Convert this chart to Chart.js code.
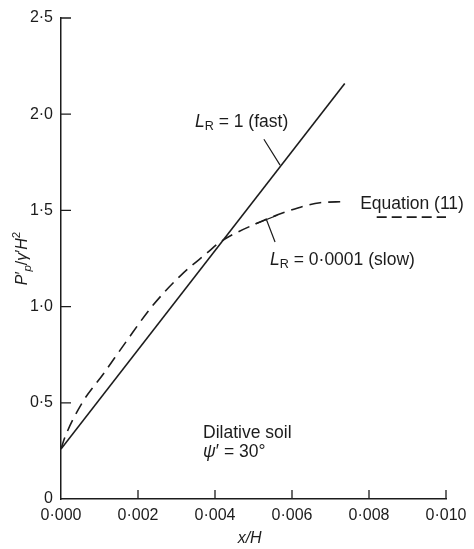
<!DOCTYPE html>
<html lang="en">
<head>
  <meta charset="UTF-8">
  <title>Dilative soil – P'p/γ'H² vs x/H</title>
  <script src="https://cdn.jsdelivr.net/npm/chart.js"></script>
  <style>
    html, body {
      margin: 0;
      padding: 0;
      background: #ffffff;
    }
    #wrap {
      width: 474px;
      height: 549px;
    }
  </style>
</head>
<body>
<div id="wrap">
  <canvas id="chart" width="474" height="549"></canvas>
</div>

<script>
  // values
  const fastX = [0, 0.00737];
  const fastY = [0.26, 2.16];

  const slowX = [0, 0.0001, 0.00055, 0.0011, 0.0017, 0.00236, 0.0031, 0.0038, 0.00413, 0.00517, 0.00595, 0.00673, 0.00732];
  const slowY = [0.26, 0.32, 0.50, 0.65, 0.82, 1.00, 1.16, 1.28, 1.335, 1.44, 1.50, 1.54, 1.545];

  // dashed key next to "Equation (11)"
  const keyX = [0.0082, 0.0100];
  const keyY = [1.465, 1.465];

  const xTicks = [0, 0.002, 0.004, 0.006, 0.008, 0.010];
  const yTicks = [0, 0.5, 1.0, 1.5, 2.0, 2.5];

  const ink = '#1c1c1c';
  const fontFam = '"Liberation Sans", Arial, Helvetica, sans-serif';

  function pts(xs, ys) {
    return xs.map((x, i) => ({ x: x, y: ys[i] }));
  }

  function dot(s) {
    return s.replace('.', '\u00B7');
  }

  // text with italic / subscript / superscript parts
  function richText(ctx, parts, x, y, size) {
    let cx = x;
    parts.forEach(p => {
      let fs = size, dy = 0;
      if (p.sub) { fs = size * 0.72; dy = size * 0.28; }
      if (p.sup) { fs = size * 0.72; dy = -size * 0.38; }
      ctx.font = (p.it ? 'italic ' : '') + fs + 'px ' + fontFam;
      ctx.fillText(p.t, cx, y + dy);
      cx += ctx.measureText(p.t).width;
    });
    return cx - x;
  }

  const notes = {
    id: 'notes',
    afterDraw(chart) {
      const c = chart.ctx;
      const xs = chart.scales.x, ys = chart.scales.y;
      const a = chart.chartArea;
      c.save();
      c.strokeStyle = ink;
      c.fillStyle = ink;

      // inward ticks
      c.lineWidth = 1.3;
      c.beginPath();
      yTicks.forEach(v => {
        if (v === 0) return;
        const py = ys.getPixelForValue(v);
        c.moveTo(a.left, py);
        c.lineTo(a.left + 10, py);
      });
      xTicks.forEach(v => {
        if (v === 0) return;
        const px = xs.getPixelForValue(v);
        c.moveTo(px, a.bottom);
        c.lineTo(px, a.bottom - 9);
      });
      c.stroke();

      // leader lines
      c.lineWidth = 1.2;
      c.beginPath();
      c.moveTo(xs.getPixelForValue(0.00527), ys.getPixelForValue(1.87));
      c.lineTo(xs.getPixelForValue(0.00569), ys.getPixelForValue(1.735));
      c.moveTo(xs.getPixelForValue(0.00556), ys.getPixelForValue(1.336));
      c.lineTo(xs.getPixelForValue(0.00533), ys.getPixelForValue(1.455));
      c.moveTo(xs.getPixelForValue(0.00505), ys.getPixelForValue(1.43));
      c.lineTo(xs.getPixelForValue(0.00562), ys.getPixelForValue(1.475));
      c.stroke();

      c.textBaseline = 'middle';
      c.textAlign = 'left';
      const fs = 17.5;
      richText(c, [{ t: 'L', it: true }, { t: 'R', sub: true }, { t: ' = 1 (fast)' }],
        xs.getPixelForValue(0.00348), ys.getPixelForValue(1.96), fs);
      richText(c, [{ t: 'L', it: true }, { t: 'R', sub: true }, { t: ' = 0\u00B70001 (slow)' }],
        xs.getPixelForValue(0.00543), ys.getPixelForValue(1.242), fs);
      richText(c, [{ t: 'Equation (11)' }],
        xs.getPixelForValue(0.00777), ys.getPixelForValue(1.533), fs);
      richText(c, [{ t: 'Dilative soil' }],
        xs.getPixelForValue(0.00369), ys.getPixelForValue(0.34), fs);
      richText(c, [{ t: '\u03C8', it: true }, { t: '\u2032 = 30\u00B0' }],
        xs.getPixelForValue(0.00369), ys.getPixelForValue(0.245), fs);

      // x title
      c.font = 'italic 16px ' + fontFam;
      const xt = 'x/H';
      const xw = c.measureText(xt).width;
      c.fillText(xt, xs.getPixelForValue(0.0049) - xw / 2, a.bottom + 40);

      // y title, rotated
      const parts = [{ t: 'P', it: true }, { t: '\u2032' }, { t: 'p', it: true, sub: true },
        { t: '/' }, { t: '\u03B3', it: true }, { t: '\u2032' }, { t: 'H', it: true }, { t: '2', sup: true }];
      c.save();
      c.translate(a.left - 38, ys.getPixelForValue(1.25));
      c.rotate(-Math.PI / 2);
      c.globalAlpha = 0;
      const w = richText(c, parts, 0, 0, 16);
      c.globalAlpha = 1;
      richText(c, parts, -w / 2, 0, 16);
      c.restore();

      c.restore();
    }
  };

  const ctx = document.getElementById('chart').getContext('2d');
  const chart = new Chart(ctx, {
    type: 'scatter',
    data: {
      datasets: [
        {
          label: 'LR = 1 (fast)',
          data: pts(fastX, fastY),
          showLine: true,
          borderColor: ink,
          borderWidth: 1.6,
          pointRadius: 0,
          fill: false
        },
        {
          label: 'LR = 0.0001 (slow)',
          data: pts(slowX, slowY),
          showLine: true,
          borderColor: ink,
          borderWidth: 1.6,
          borderDash: [12, 7],
          pointRadius: 0,
          cubicInterpolationMode: 'monotone',
          fill: false
        },
        {
          label: 'Equation (11)',
          data: pts(keyX, keyY),
          showLine: true,
          borderColor: ink,
          borderWidth: 1.6,
          borderDash: [10, 5],
          pointRadius: 0,
          fill: false
        }
      ]
    },
    options: {
      responsive: false,
      animation: false,
      layout: {
        padding: { top: 18, right: 28, left: 0, bottom: 0 }
      },
      plugins: {
        legend: { display: false },
        tooltip: { enabled: false }
      },
      scales: {
        x: {
          type: 'linear',
          min: 0,
          max: 0.01,
          afterBuildTicks: s => { s.ticks = xTicks.map(v => ({ value: v })); },
          afterFit: s => { s.height = 50; },
          grid: { display: false, drawTicks: false },
          border: { display: true, color: ink, width: 1.5 },
          ticks: {
            padding: 7,
            color: ink,
            font: { family: fontFam, size: 16 },
            maxRotation: 0,
            callback: v => dot(v.toFixed(3))
          }
        },
        y: {
          type: 'linear',
          min: 0,
          max: 2.5,
          afterBuildTicks: s => { s.ticks = yTicks.map(v => ({ value: v })); },
          afterFit: s => { s.width = 61; },
          grid: { display: false, drawTicks: false },
          border: { display: true, color: ink, width: 1.5 },
          ticks: {
            padding: 8,
            color: ink,
            font: { family: fontFam, size: 16 },
            callback: v => v === 0 ? '0' : dot(v.toFixed(1))
          }
        }
      }
    },
    plugins: [notes]
  });
</script>
</body>
</html>
